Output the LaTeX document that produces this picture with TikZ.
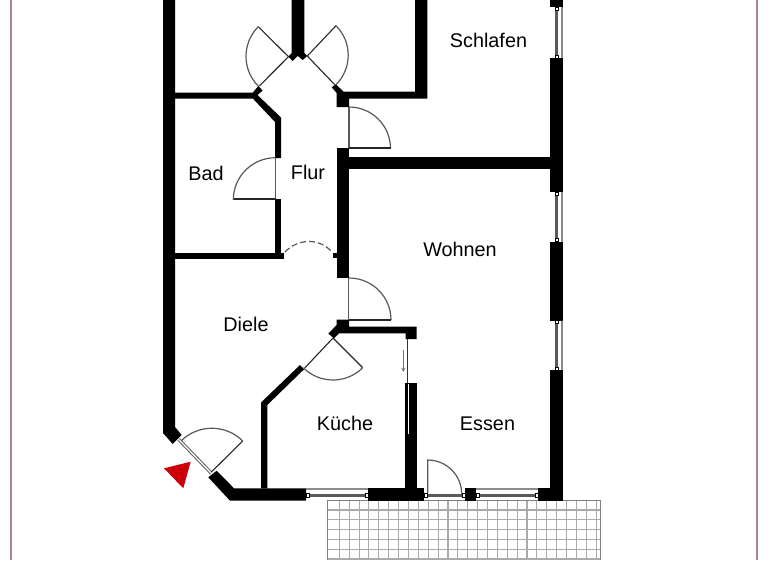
\documentclass[tikz,border=0pt]{standalone}
\usepackage{fontspec}
\setmainfont{Liberation Sans}
\definecolor{rahmen}{RGB}{165,135,140}
\definecolor{platte}{RGB}{170,170,170}
\definecolor{spitze}{RGB}{205,0,10}
\tikzset{
	wall/.style={fill=black,draw=none},
	leaf/.style={draw=black!85,line width=1.1pt},
	swing/.style={draw=black!65,line width=1.2pt},
	sash/.style={draw=black!65,line width=3.4pt,line cap=butt},
	sill/.style={draw=black!45,line width=1.5pt},
	kante/.style={draw=black,fill=white,line width=0.6pt},
}
\begin{document}
\begin{tikzpicture}[>=stealth,line join=miter,x=1pt,y=-1pt,font=\fontsize{19.8}{23}\selectfont]
	\useasboundingbox (0,0) rectangle (768,560);
	\fill[white] (0,0) rectangle (768,560);
	\draw[rahmen,line width=1.6pt] (11,0)--(11,560) (757,0)--(757,560);
	% terrasse
	\foreach \x in {0,...,26} \draw[platte,line width=1.1pt] (339.3+9.88*\x,501)--(339.3+9.88*\x,560);
	\foreach \y in {0,...,5} \draw[platte,line width=1.1pt] (327.5,510+9.8*\y)--(600.7,510+9.8*\y);
	\draw[black!50,line width=1.5pt] (327.5,560)--(327.5,500.7)--(600.7,500.7)--(600.7,560);
	% waende
	\fill[wall] (163,0)--(175,0)--(175,427)--(181.7,435)--(172.7,444)--(163,433)--cycle;
	\fill[wall] (208.3,477.3)--(216.7,470.7)--(234,488.3)--(306,488.3)--(306,500.7)--(230,500.7)--cycle;
	\fill[wall] (368,488.3) rectangle (424,500.7);
	\fill[wall] (465,488.3) rectangle (476,500.7);
	\fill[wall] (538,488.3) rectangle (562.7,500.7);
	\fill[wall] (550,370) rectangle (562.7,500.7);
	\fill[wall] (550,241.7) rectangle (562.7,320.7);
	\fill[wall] (550,58) rectangle (562.7,192);
	\fill[wall] (550,0) rectangle (562.7,7);
	\fill[wall] (349,156.7) rectangle (550,169);
	\fill[wall] (336.7,148) rectangle (349,278);
	\fill[wall] (175,92.7)--(252.7,92.7)--(258.3,86)--(262.7,90.5)--(257.5,95)--(281,117.5)--(281,158)--(275,158)--(275,122)--(253,98.7)--(175,98.7)--cycle;
	\fill[wall] (275,199) rectangle (281,253.3);
	\fill[wall] (175,253.3) rectangle (284,259.3);
	\fill[wall] (332.7,253) rectangle (337,258);
	\fill[wall] (291.7,0)--(304.3,0)--(304.3,53)--(307.3,56)--(302.7,60)--(297.7,56)--(292.7,61)--(288.3,56.7)--(291.7,53)--cycle;
	\fill[wall] (415,0)--(427.3,0)--(427.3,98.7)--(349,98.7)--(349,107)--(336.7,107)--(336.7,93)--(331.7,87.3)--(336,84.3)--(343.5,91.7)--(415,91.7)--cycle;
	\fill[wall] (336.7,319.5)--(349,319.5)--(349,326.7)--(416.7,326.7)--(416.7,339)--(405.7,339)--(405.7,333.3)--(339,333.3)--(334,338.5)--(328.3,333.5)--(336.7,325)--cycle;
	\fill[wall] (300,365)--(304,369.3)--(267.3,405)--(267.3,488.3)--(261,488.3)--(261,402.5)--cycle;
	\fill[wall] (405.3,383) rectangle (417.3,488.3);
	\draw[white,line width=1pt] (408.3,384)--(408.3,434);
	\draw[black!80,line width=1.3pt] (407.8,339)--(407.8,383);
	\draw[->,black!55,line width=0.9pt] (403.3,350)--(403.3,372);
	% fenster
	\foreach \a/\b in {306/368,476/538,424/465}{
		\draw[sash] (\a+2,495.3)--(\b-2,495.3);
		\draw[kante] (\a,493.5) rectangle (\a+3,497);
		\draw[kante] (\b-3,493.5) rectangle (\b,497);
	}
	\foreach \a/\b in {306/368,476/538} \draw[sill] (\a,489)--(\b,489);
	\foreach \a/\b in {7/58,192/241.7,320.7/370}{
		\draw[sash] (556.5,\a+2)--(556.5,\b-2);
		\draw[kante] (555,\a) rectangle (558.5,\a+3);
		\draw[kante] (555,\b-3) rectangle (558.5,\b);
		\draw[sill] (561.8,\a)--(561.8,\b);
	}
	\draw[black!60,line width=3.4pt] (178.6,439.3)--(211.4,473.3);
	\draw[white,line width=1.2pt] (178.6,439.3)--(211.4,473.3);
	% tueren
	\draw[leaf] (211.7,471.7)--(242.7,441);
	\draw[swing] (242.7,441) arc[start angle=-45,end angle=-135,radius=43.6];
	\draw[leaf] (333,338)--(304.7,368);
	\draw[leaf] (333,338)--(362.7,367.7);
	\draw[swing] (362.7,367.7) arc[start angle=45,end angle=135,radius=42];
	\draw[swing] (349,278) arc[start angle=-90,end angle=0,radius=42];
	\draw[swing] (348.5,278)--(348.5,320);
	\draw[leaf] (348.5,320)--(391,320);
	\draw[swing] (349,107) arc[start angle=-90,end angle=0,radius=41.5];
	\draw[swing] (349,107)--(349,148);
	\draw[leaf] (349,148)--(390.5,148);
	\draw[leaf] (259.3,86)--(288.5,56.7)--(258.3,26.7);
	\draw[swing] (258.3,26.7) arc[start angle=-135,end angle=-225,radius=42];
	\draw[leaf] (335,85)--(307.3,56)--(336,25.7);
	\draw[swing] (336,25.7) arc[start angle=-45,end angle=45,radius=41.7];
	\draw[swing] (275.5,157.7)--(275.5,199);
	\draw[leaf] (275.5,199)--(233.3,199);
	\draw[swing] (275.5,157.7) arc[start angle=-90,end angle=-180,radius=42.2];
	\draw[swing,dashed,dash pattern=on 6pt off 3pt] (285,252) .. controls (298,238) and (320,238) .. (332,252);
	\draw[swing] (427.7,493) -- (427.7,460) arc[start angle=-90,end angle=0,radius=34];
	\fill[spitze] (164,468.3)--(190.7,461.7)--(183.3,488.3)--cycle;
	% raeume
	\path
	(488.5,40.5)coordinate[label=center:Schlafen](schlafen)
	(206,173.5)coordinate[label=center:Bad](bad)
	(308,172.5)coordinate[label=center:Flur](flur)
	(460,249.5)coordinate[label=center:Wohnen](wohnen)
	(246,324.5)coordinate[label=center:Diele](diele)
	(345,423.5)coordinate[label=center:Küche](kueche)
	(487.5,423.5)coordinate[label=center:Essen](essen)
	;
\end{tikzpicture}
\end{document}
